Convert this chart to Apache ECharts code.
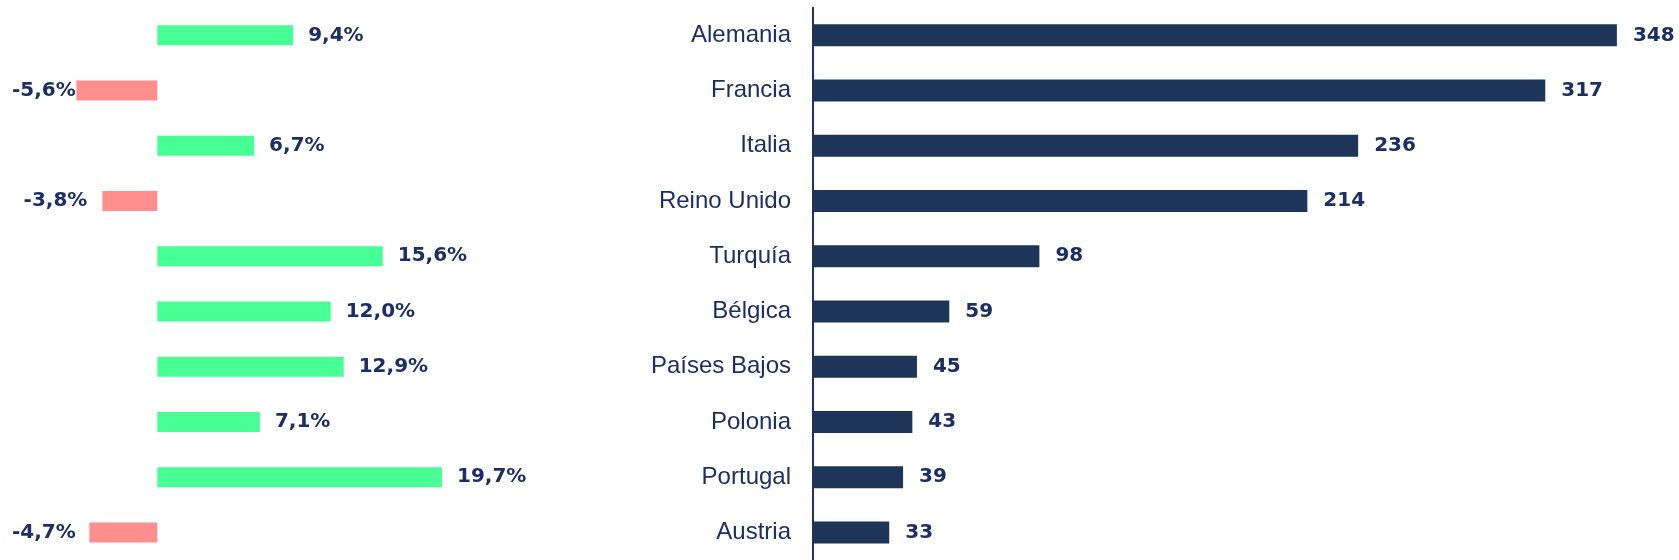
<!DOCTYPE html>
<html>
<head>
<meta charset="utf-8">
<title>Países</title>
<script src="https://cdn.jsdelivr.net/npm/echarts/dist/echarts.min.js"></script>
<style>
    html, body {
        margin: 0;
        padding: 0;
        background: #fff;
    }

    .chart {
        width: 1679px;
        height: 560px;
    }
</style>
</head>
<body>
<div class="chart" id="main"></div>
<script>
const countries = ['Alemania', 'Francia', 'Italia', 'Reino Unido', 'Turquía', 'Bélgica', 'Países Bajos', 'Polonia', 'Portugal', 'Austria'];
const totals = [348, 317, 236, 214, 98, 59, 45, 43, 39, 33];
const growth = [9.4, -5.6, 6.7, -3.8, 15.6, 12.0, 12.9, 7.1, 19.7, -4.7];

const navy = '#1e3559';
const textColor = '#1b2f66';

let chartDom = document.getElementById('main');
let myChart = echarts.init(chartDom);
let option;

option = {
    animation: false,
    grid: [
        { left: 12.8, top: 7.75, width: 505.75, height: 555 },
        { left: 813, top: 7.75, width: 831.6, height: 555 }
    ],
    xAxis: [
        { gridIndex: 0, type: 'value', min: -10, max: 25, show: false },
        { gridIndex: 1, type: 'value', min: 0, max: 360, show: false }
    ],
    yAxis: [
        {
            gridIndex: 0,
            type: 'category',
            data: countries,
            inverse: true,
            show: false
        },
        {
            gridIndex: 1,
            type: 'category',
            data: countries,
            inverse: true,
            axisLine: { show: true, lineStyle: { color: navy, width: 2 } },
            axisTick: { show: false },
            axisLabel: {
                margin: 22,
                fontFamily: 'Liberation Sans',
                fontSize: 24,
                color: textColor
            }
        }
    ],
    series: [
        {
            // variación
            type: 'bar',
            xAxisIndex: 0,
            yAxisIndex: 0,
            barWidth: 20,
            data: growth.map(function (v) {
                return {
                    value: v,
                    itemStyle: { color: v < 0 ? '#ff8f8c' : '#48ff96' },
                    label: { position: v < 0 ? 'left' : 'right' }
                };
            }),
            label: {
                show: true,
                distance: 15,
                fontFamily: 'DejaVu Sans',
                fontWeight: 'bold',
                fontSize: 20,
                color: textColor,
                formatter: function (p) {
                    return p.value.toFixed(1).replace('.', ',') + '%';
                }
            },
            labelLayout: function (params) {
                // keep labels inside the left edge
                let r = params.labelRect;
                if (r.x < 12) {
                    return { x: 12, y: r.y + r.height / 2, align: 'left', verticalAlign: 'middle' };
                }
                return {};
            }
        },
        {
            // total
            type: 'bar',
            xAxisIndex: 1,
            yAxisIndex: 1,
            barWidth: 22,
            itemStyle: { color: navy },
            data: totals,
            label: {
                show: true,
                position: 'right',
                distance: 16,
                fontFamily: 'DejaVu Sans',
                fontWeight: 'bold',
                fontSize: 20,
                color: textColor
            }
        }
    ]
};

option && myChart.setOption(option);
</script>
</body>
</html>
